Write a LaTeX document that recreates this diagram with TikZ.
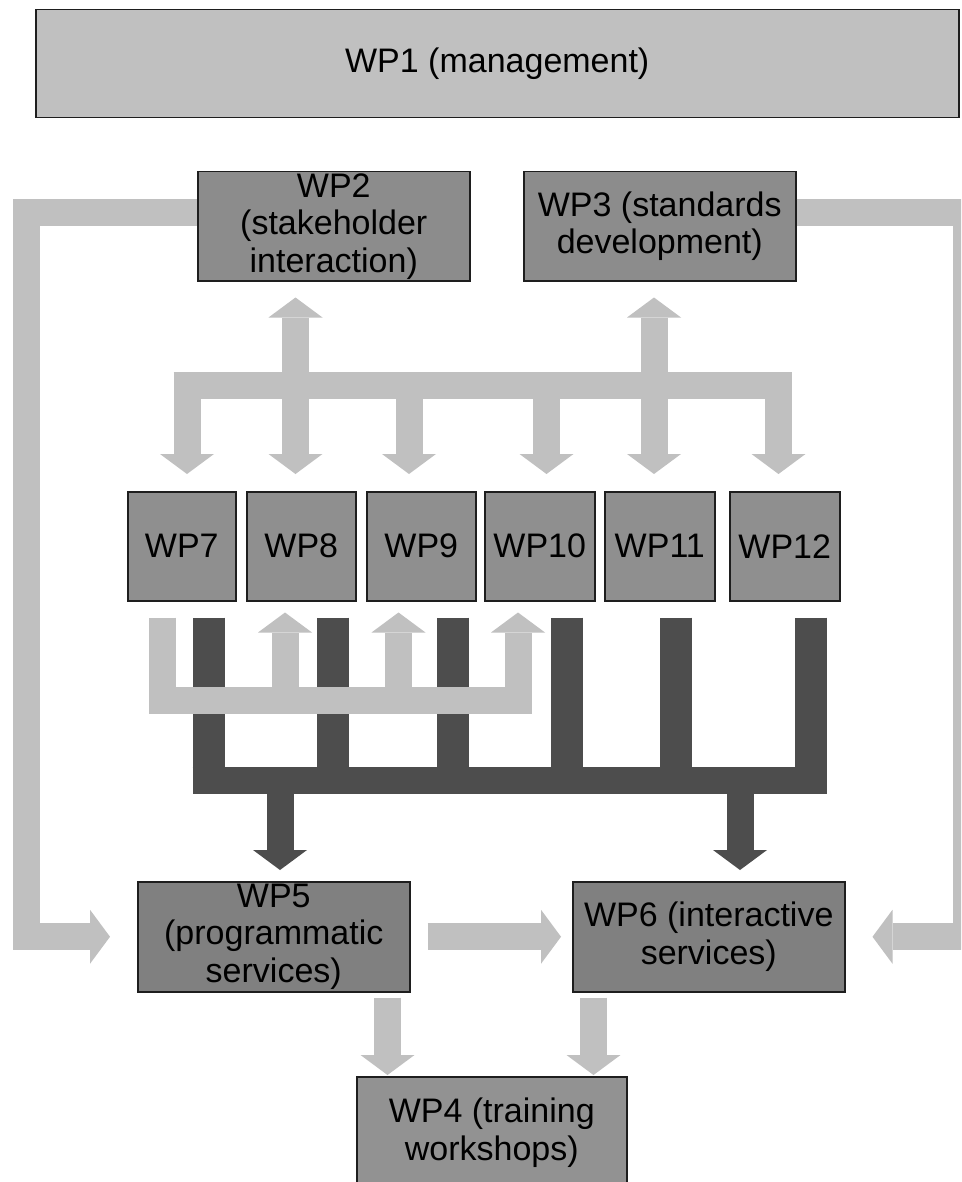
\documentclass[tikz,border=0pt]{standalone}
\usepackage{fontspec}
\setmainfont{Liberation Sans}
\usetikzlibrary{arrows.meta,calc}

\definecolor{flowlight}{HTML}{C0C0C0}
\definecolor{flowdark}{HTML}{4D4D4D}
\definecolor{boxline}{HTML}{1E1E1E}
\definecolor{mgmtfill}{HTML}{C0C0C0}
\definecolor{topfill}{HTML}{8C8C8C}
\definecolor{wpfill}{HTML}{8F8F8F}
\definecolor{svcfill}{HTML}{808080}
\definecolor{trainfill}{HTML}{929292}

\tikzset{
  flowtip/.tip={Triangle[length=20pt,width=54pt,line width=0pt]},
  wpbox/.style={draw=boxline, line width=1.5pt, rectangle, inner sep=0pt,
    align=center, anchor=north west, text=black,
    font=\fontsize{34}{37.5}\selectfont},
  lightflow/.style={draw=flowlight, line width=27pt, line join=miter},
  darkflow/.style={draw=flowdark, line width=27pt, line join=miter},
}

\begin{document}
\begin{tikzpicture}[x=1pt,y=-1pt]
\useasboundingbox (0,0) rectangle (961,1182);
\clip (0,0) rectangle (961,1182);
\fill[white] (0,0) rectangle (961,1182);

% work package boxes
\node[wpbox, fill=mgmtfill, minimum width=923pt, minimum height=108pt] (wp1) at (35,9) {WP1 (management)};
\node[wpbox, fill=topfill, minimum width=272pt, minimum height=109pt] (wp2) at (197,171) {WP2\\(stakeholder\\interaction)};
\node[wpbox, fill=topfill, minimum width=272pt, minimum height=109pt] (wp3) at (523,171) {WP3 (standards\\development)};

\node[wpbox, fill=wpfill, minimum width=108pt, minimum height=109pt] (wp7) at (127,491) {WP7};
\node[wpbox, fill=wpfill, minimum width=109pt, minimum height=109pt] (wp8) at (246,491) {WP8};
\node[wpbox, fill=wpfill, minimum width=109pt, minimum height=109pt] (wp9) at (366,491) {WP9};
\node[wpbox, fill=wpfill, minimum width=110pt, minimum height=109pt] (wp10) at (484,491) {WP10};
\node[wpbox, fill=wpfill, minimum width=110pt, minimum height=109pt] (wp11) at (604,491) {WP11};
\node[wpbox, fill=wpfill, minimum width=110pt, minimum height=109pt] (wp12) at (729,491) {WP12};

\node[wpbox, fill=svcfill, minimum width=272pt, minimum height=110pt] (wp5) at (137,881) {WP5\\(programmatic\\services)};
\node[wpbox, fill=svcfill, minimum width=272pt, minimum height=110pt] (wp6) at (572,881) {WP6 (interactive\\services)};
\node[wpbox, fill=trainfill, minimum width=270pt, minimum height=112pt] (wp4) at (356,1076) {WP4 (training\\workshops)};

% flow columns and bus levels
\coordinate (topbus) at (0,385.5);
\coordinate (lowbus) at (0,700);
\coordinate (darkbus) at (0,780.5);
\foreach \n/\x in {c7/187,c8/295.5,c9/409,c10/546.5,c11/654,c12/778.5,
                   d7/208.5,d8/333,d9/453,d10/567,d11/675.5,d12/811,
                   u7/162,u8/285,u9/398.5,u10/518,
                   p5/280,p6/740,b5/387.5,b6/593.5,sl/26.5,sr/966.5}
  \coordinate (\n) at (\x,0);

% WP2 and WP3 feed WP7--WP12 through the upper bus
\draw[lightflow] ($(topbus -| c7)+(-13.5,0)$) -- ($(topbus -| c12)+(13.5,0)$);
\draw[lightflow, flowtip-flowtip] ($(wp2.south -| c8)+(0,16)$) -- ($(wp8.north -| c8)+(0,-17)$);
\draw[lightflow, flowtip-flowtip] ($(wp3.south -| c11)+(0,16)$) -- ($(wp11.north -| c11)+(0,-17)$);
\foreach \c/\w in {c7/wp7,c9/wp9,c10/wp10,c12/wp12}
  \draw[lightflow, -flowtip] (topbus -| \c) -- ($(\w.north -| \c)+(0,-17)$);

% WP7--WP12 outputs gathered into WP5 and WP6
\draw[darkflow] ($(darkbus -| d7)+(-16,0)$) -- ($(darkbus -| d12)+(16,0)$);
\foreach \d/\w in {d7/wp7,d8/wp8,d9/wp9,d10/wp10,d11/wp11,d12/wp12}
  \draw[darkflow, line width=32pt] ($(\w.south -| \d)+(0,16)$) -- ($(darkbus -| \d)+(0,13.5)$);
\draw[darkflow, -flowtip] (darkbus -| p5) -- ($(wp5.north -| p5)+(0,-11)$);
\draw[darkflow, -flowtip] (darkbus -| p6) -- ($(wp6.north -| p6)+(0,-11)$);

% WP7 feeds WP8, WP9 and WP10 through the lower bus
\draw[lightflow, -flowtip] ($(wp7.south -| u7)+(0,16)$) |- (lowbus -| u10) -- ($(wp10.south -| u10)+(0,11)$);
\draw[lightflow, -flowtip] (lowbus -| u8) -- ($(wp8.south -| u8)+(0,11)$);
\draw[lightflow, -flowtip] (lowbus -| u9) -- ($(wp9.south -| u9)+(0,11)$);

% side loops from WP2 and WP3 down to the service packages
\draw[lightflow, -flowtip] ($(wp2.west)+(0,-13.5)$) -| (sl |- wp5.west) -- ($(wp5.west)+(-27,0)$);
\draw[lightflow, -flowtip] ($(wp3.east)+(0,-13.5)$) -| (sr |- wp6.west) -- ($(wp6.east)+(27,0)$);

% service packages onwards
\draw[lightflow, -flowtip] ($(wp5.east)+(17,0)$) -- ($(wp6.west)+(-11,0)$);
\draw[lightflow, -flowtip] ($(wp5.south -| b5)+(0,5)$) -- ($(wp4.north -| b5)+(0,-1)$);
\draw[lightflow, -flowtip] ($(wp6.south -| b6)+(0,5)$) -- ($(wp4.north -| b6)+(0,-1)$);
\end{tikzpicture}
\end{document}
